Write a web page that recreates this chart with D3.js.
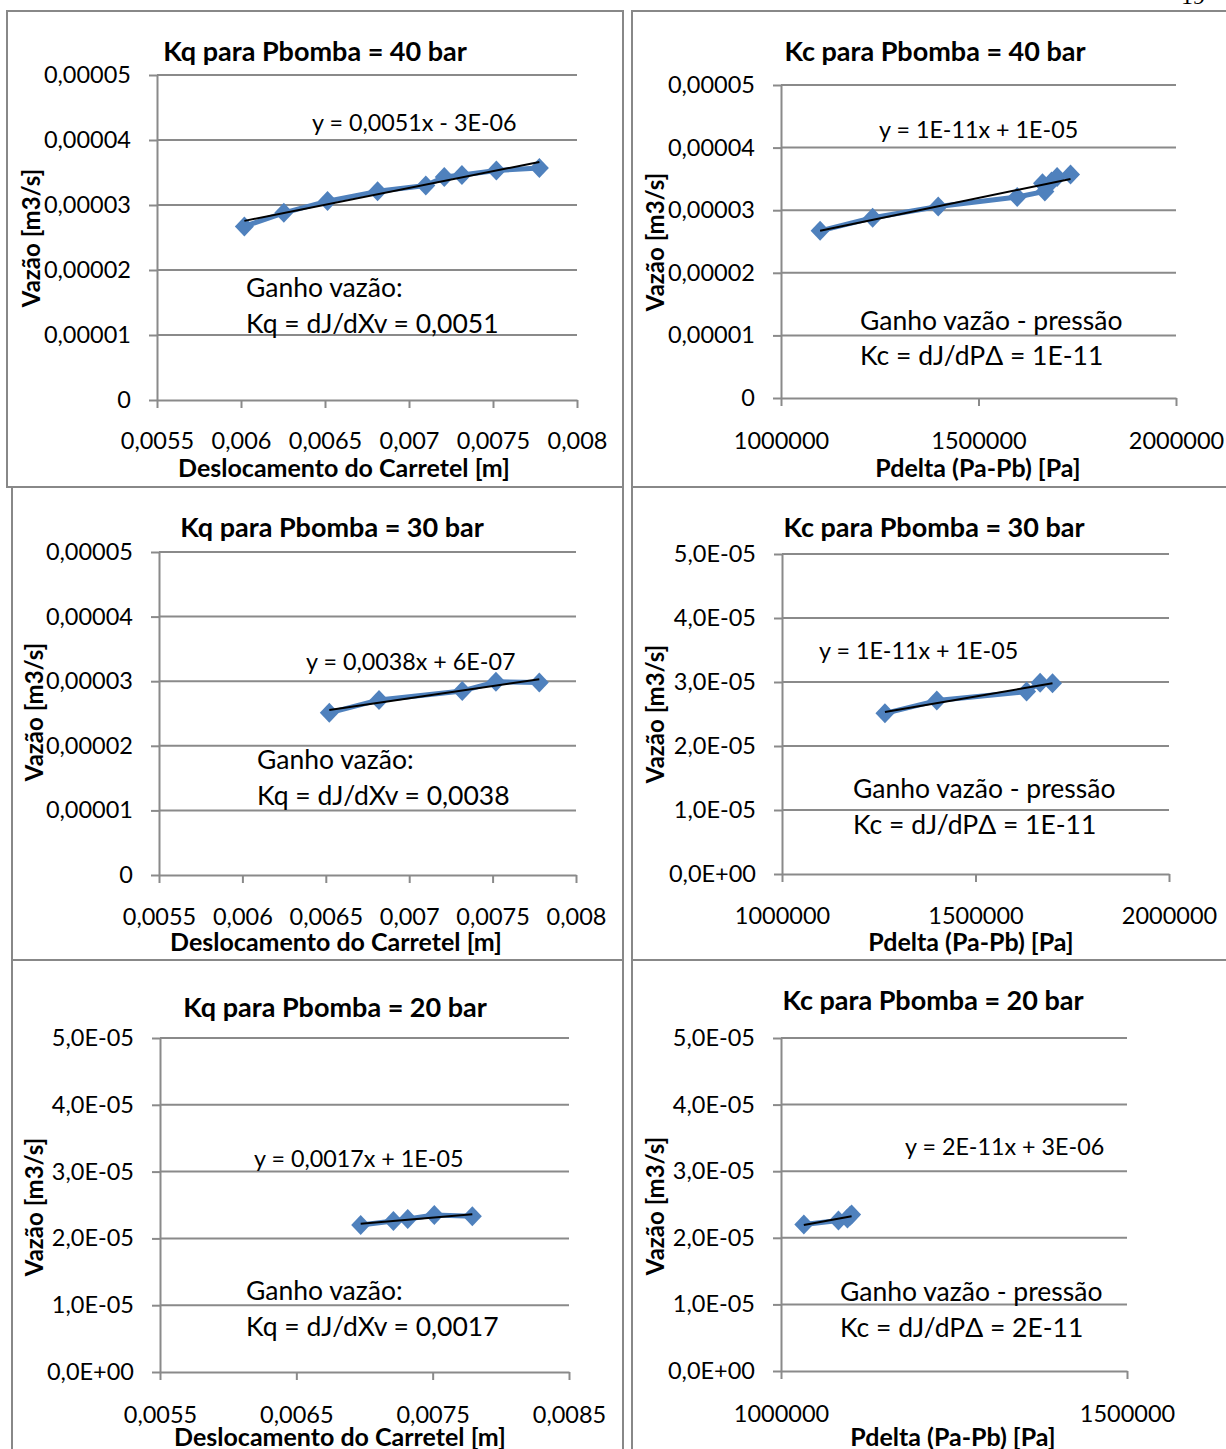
<!DOCTYPE html>
<html><head><meta charset="utf-8">
<script src="https://cdn.jsdelivr.net/npm/d3@7"></script>
<style>
body{margin:0;background:#fff}
svg{display:block}
text{font-family:Lato,"Open Sans",sans-serif;fill:#000}
</style>
</head><body>
<svg id="c" width="1226" height="1449"></svg>
<script>
// ---------------- data ----------------
const kq40X = [0.00602, 0.006255, 0.006515, 0.006813, 0.0071, 0.00721, 0.007315, 0.00752, 0.007776];
const kq40Y = [2.67e-5, 2.88e-5, 3.06e-5, 3.21e-5, 3.30e-5, 3.43e-5, 3.46e-5, 3.53e-5, 3.57e-5];
const kc40X = [1099000, 1232000, 1398000, 1598000, 1668000, 1662000, 1685000, 1699000, 1733000];
const kc40Y = [2.67e-5, 2.88e-5, 3.06e-5, 3.21e-5, 3.30e-5, 3.43e-5, 3.46e-5, 3.53e-5, 3.57e-5];
const kq30X = [0.006521, 0.006819, 0.007318, 0.00752, 0.00778];
const kq30Y = [2.51e-5, 2.71e-5, 2.85e-5, 2.99e-5, 2.98e-5];
const kc30X = [1266000, 1400000, 1632000, 1667000, 1699000];
const kc30Y = [2.51e-5, 2.71e-5, 2.85e-5, 2.99e-5, 2.98e-5];
const kq20X = [0.006972, 0.007212, 0.007317, 0.007512, 0.007791];
const kq20Y = [2.20e-5, 2.26e-5, 2.29e-5, 2.35e-5, 2.33e-5];
const kc20X = [1033000, 1083000, 1096000, 1102000, 1100000];
const kc20Y = [2.20e-5, 2.26e-5, 2.29e-5, 2.35e-5, 2.33e-5];

const yTickValues = [0, 1e-5, 2e-5, 3e-5, 4e-5, 5e-5];
const yLabelsDec = ["0", "0,00001", "0,00002", "0,00003", "0,00004", "0,00005"];
const yLabelsSci = ["0,0E+00", "1,0E-05", "2,0E-05", "3,0E-05", "4,0E-05", "5,0E-05"];
const xTicksKq = [0.0055, 0.006, 0.0065, 0.007, 0.0075, 0.008];
const xLabelsKq = ["0,0055", "0,006", "0,0065", "0,007", "0,0075", "0,008"];
const xTicksKq20 = [0.0055, 0.0065, 0.0075, 0.0085];
const xLabelsKq20 = ["0,0055", "0,0065", "0,0075", "0,0085"];
const xTicksKc = [1000000, 1500000, 2000000];
const xLabelsKc = ["1000000", "1500000", "2000000"];
const xTicksKc20 = [1000000, 1500000];
const xLabelsKc20 = ["1000000", "1500000"];

const titles = ["Kq para Pbomba = 40 bar", "Kc para Pbomba = 40 bar",
                "Kq para Pbomba = 30 bar", "Kc para Pbomba = 30 bar",
                "Kq para Pbomba = 20 bar", "Kc para Pbomba = 20 bar"];
const equations = ["y = 0,0051x - 3E-06", "y = 1E-11x + 1E-05",
                   "y = 0,0038x + 6E-07", "y = 1E-11x + 1E-05",
                   "y = 0,0017x + 1E-05", "y = 2E-11x + 3E-06"];
const gainTitles = ["Ganho vazão:", "Ganho vazão - pressão"];
const gainValues = ["Kq = dJ/dXv = 0,0051", "Kc = dJ/dPΔ = 1E-11",
                    "Kq = dJ/dXv = 0,0038", "Kc = dJ/dPΔ = 1E-11",
                    "Kq = dJ/dXv = 0,0017", "Kc = dJ/dPΔ = 2E-11"];
const xTitleKq = "Deslocamento do Carretel [m]";
const xTitleKc = "Pdelta (Pa-Pb) [Pa]";
const yTitle = "Vazão [m3/s]";

// ---------------- layout ----------------
const panels = [
  {xs:kq40X, ys:kq40Y, dom:[0.0055,0.008], xt:xTicksKq, xl:xLabelsKq, yl:yLabelsDec, xTitle:xTitleKq, gain:0,
   box:[7,11,623,487], plot:[157,577,75,400], titleXY:[315,50], xTitleXY:[344,467], yTitleXY:[30,238],
   eqXY:[312,122], gainXY:[246,287,323], xlabOff:41},
  {xs:kc40X, ys:kc40Y, dom:[1000000,2000000], xt:xTicksKc, xl:xLabelsKc, yl:yLabelsDec, xTitle:xTitleKc, gain:1,
   box:[632,11,1240,487], plot:[781,1176,85,398], titleXY:[935,50], xTitleXY:[978,467], yTitleXY:[654,242],
   eqXY:[879,129], gainXY:[860,320,355], xlabOff:43},
  {xs:kq30X, ys:kq30Y, dom:[0.0055,0.008], xt:xTicksKq, xl:xLabelsKq, yl:yLabelsDec, xTitle:xTitleKq, gain:0,
   box:[12,487,623,960], plot:[159,576,552,875], titleXY:[332,526], xTitleXY:[336,941], yTitleXY:[33,712],
   eqXY:[306,661], gainXY:[257,759,795], xlabOff:42},
  {xs:kc30X, ys:kc30Y, dom:[1000000,2000000], xt:xTicksKc, xl:xLabelsKc, yl:yLabelsSci, xTitle:xTitleKc, gain:1,
   box:[632,487,1240,960], plot:[782,1169,554,874], titleXY:[934,526], xTitleXY:[971,941], yTitleXY:[654,714],
   eqXY:[819,650], gainXY:[853,788,824], xlabOff:42},
  {xs:kq20X, ys:kq20Y, dom:[0.0055,0.0085], xt:xTicksKq20, xl:xLabelsKq20, yl:yLabelsSci, xTitle:xTitleKq, gain:0,
   box:[12,960,623,1470], plot:[160,569,1038,1372], titleXY:[335,1006], xTitleXY:[340,1436], yTitleXY:[33,1207],
   eqXY:[254,1158], gainXY:[246,1290,1326], xlabOff:43},
  {xs:kc20X, ys:kc20Y, dom:[1000000,1500000], xt:xTicksKc20, xl:xLabelsKc20, yl:yLabelsSci, xTitle:xTitleKc, gain:1,
   box:[632,960,1240,1470], plot:[781,1127,1038,1371], titleXY:[933,999], xTitleXY:[953,1436], yTitleXY:[654,1206],
   eqXY:[905,1146], gainXY:[840,1291,1327], xlabOff:43}
];

const GRID = "#8a8a8a", BLUE = "#4F81BD";
const svg = d3.select("#c");

// page number (cut at top edge in the reference)
svg.append("text").attr("x", 1181).attr("y", 4)
  .style("font-family", "'Liberation Serif', serif").style("font-size", "24px").text("19");

panels.forEach((p, i) => {
  const g = svg.append("g");
  const [bl, bt, br, bb] = p.box;
  g.append("rect").attr("x", bl).attr("y", bt).attr("width", br - bl).attr("height", bb - bt)
    .attr("fill", "none").attr("stroke", "#888").attr("stroke-width", 2);

  const [pl, pr, pt, pb] = p.plot;
  const x = d3.scaleLinear().domain(p.dom).range([pl, pr]);
  const y = d3.scaleLinear().domain([0, 5e-5]).range([pb, pt]);

  // gridlines
  g.append("g").selectAll("line").data(yTickValues.slice(1)).join("line")
    .attr("x1", pl).attr("x2", pr).attr("y1", d => y(d)).attr("y2", d => y(d))
    .attr("stroke", GRID).attr("stroke-width", 2);

  // axes
  const ya = g.append("g").attr("transform", `translate(${pl},0)`)
    .call(d3.axisLeft(y).tickValues(yTickValues).tickSize(8).tickSizeOuter(0).tickPadding(18)
      .tickFormat((d, k) => p.yl[k]));
  const xa = g.append("g").attr("transform", `translate(0,${pb})`)
    .call(d3.axisBottom(x).tickValues(p.xt).tickSize(8).tickSizeOuter(0).tickPadding(p.xlabOff - 17)
      .tickFormat((d, k) => p.xl[k]));
  [ya, xa].forEach(a => {
    a.select(".domain").attr("stroke", GRID).attr("stroke-width", 2);
    a.selectAll(".tick line").attr("stroke", GRID).attr("stroke-width", 2);
    a.selectAll(".tick text").attr("font-family", "Lato").attr("font-size", 23.5).attr("fill", "#000");
  });

  // series line + markers
  const pts = p.xs.map((v, k) => [v, p.ys[k]]);
  g.append("path").datum(pts)
    .attr("d", d3.line().x(d => x(d[0])).y(d => y(d[1])))
    .attr("fill", "none").attr("stroke", BLUE).attr("stroke-width", 5).attr("stroke-linejoin", "round");
  g.append("g").selectAll("path").data(pts).join("path")
    .attr("d", "M0,-10L9.5,0L0,10L-9.5,0Z")
    .attr("transform", d => `translate(${x(d[0])},${y(d[1])})`)
    .attr("fill", BLUE);

  // linear trendline (least squares)
  const mx = d3.mean(p.xs), my = d3.mean(p.ys);
  const slope = d3.sum(p.xs, (v, k) => (v - mx) * (p.ys[k] - my)) / d3.sum(p.xs, v => (v - mx) ** 2);
  const icpt = my - slope * mx;
  const [x0, x1] = d3.extent(p.xs);
  g.append("path").datum([[x0, icpt + slope * x0], [x1, icpt + slope * x1]])
    .attr("d", d3.line().x(d => x(d[0])).y(d => y(d[1])))
    .attr("stroke", "#000").attr("stroke-width", 2).attr("fill", "none");

  // texts
  g.append("text").attr("x", p.titleXY[0]).attr("y", p.titleXY[1]).attr("text-anchor", "middle")
    .attr("dominant-baseline", "central").attr("font-weight", "bold").attr("font-size", 27).text(titles[i]);
  g.append("text").attr("x", p.xTitleXY[0]).attr("y", p.xTitleXY[1]).attr("text-anchor", "middle")
    .attr("dominant-baseline", "central").attr("font-weight", "bold").attr("font-size", 25).text(p.xTitle);
  g.append("text").attr("transform", `translate(${p.yTitleXY[0]},${p.yTitleXY[1]}) rotate(-90)`)
    .attr("text-anchor", "middle").attr("dominant-baseline", "central")
    .attr("font-weight", "bold").attr("font-size", 24).text(yTitle);
  g.append("text").attr("x", p.eqXY[0]).attr("y", p.eqXY[1]).attr("dominant-baseline", "central")
    .attr("font-size", 23.3).text(equations[i]);
  g.append("text").attr("x", p.gainXY[0]).attr("y", p.gainXY[1]).attr("dominant-baseline", "central")
    .attr("font-size", 26.5).text(gainTitles[p.gain]);
  g.append("text").attr("x", p.gainXY[0]).attr("y", p.gainXY[2]).attr("dominant-baseline", "central")
    .attr("font-size", 26.5).text(gainValues[i]);
});
</script>
</body></html>
